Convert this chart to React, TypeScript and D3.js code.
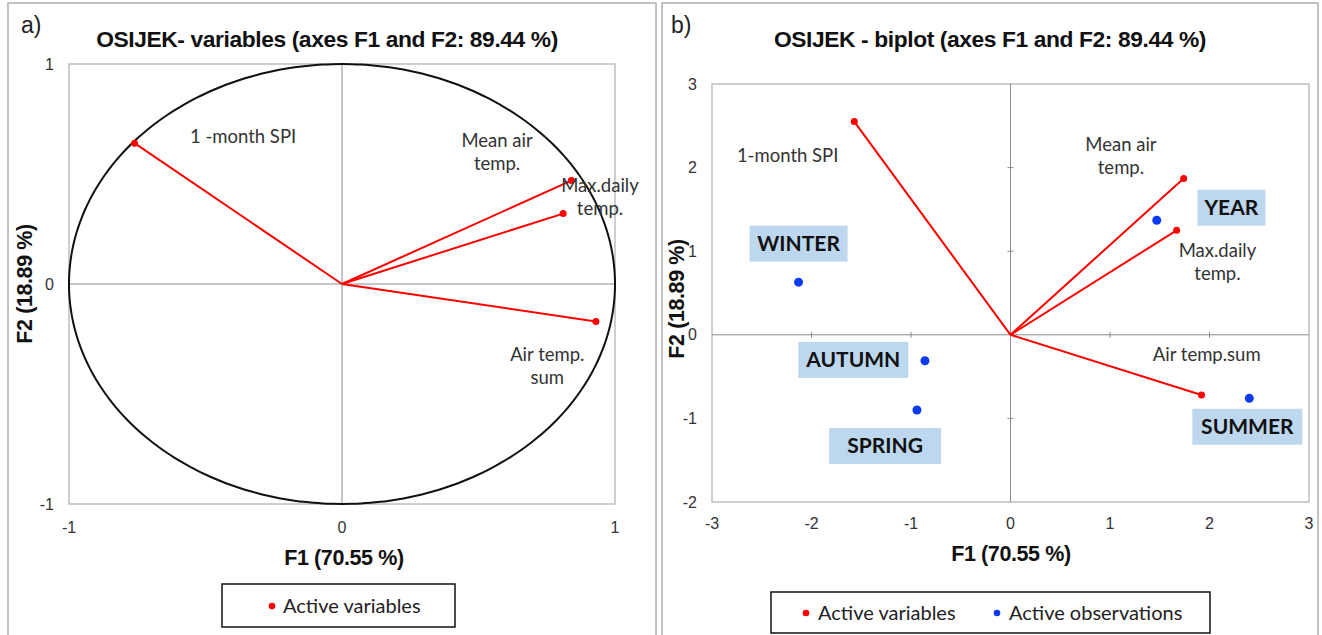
import React from "react";
import * as d3 from "d3";

// ---------- DATA ----------
const varNamesA = ["1 -month SPI", "Mean air temp.", "Max.daily temp.", "Air temp. sum"];
const varF1A = [-0.76, 0.84, 0.81, 0.93];
const varF2A = [0.64, 0.47, 0.32, -0.17];

const varNamesB = ["1-month SPI", "Mean air temp.", "Max.daily temp.", "Air temp.sum"];
const varF1B = [-1.57, 1.74, 1.67, 1.92];
const varF2B = [2.55, 1.87, 1.25, -0.72];

const obsNames = ["YEAR", "WINTER", "AUTUMN", "SPRING", "SUMMER"];
const obsF1 = [1.47, -2.13, -0.86, -0.94, 2.4];
const obsF2 = [1.37, 0.63, -0.31, -0.9, -0.76];

const ticksA = [-1, 0, 1];
const ticksBX = [-3, -2, -1, 0, 1, 2, 3];
const ticksBY = [-2, -1, 0, 1, 2, 3];

// ---------- LAYOUT (label placement in data coordinates) ----------
const labelsA = [
  { lines: ["1 -month SPI"], x: -0.557, y: 0.64, anchor: "start" },
  { lines: ["Mean air", "temp."], x: 0.568, y: 0.625, anchor: "middle" },
  { lines: ["Max.daily", "temp."], x: 0.945, y: 0.418, anchor: "middle" },
  { lines: ["Air temp.", "sum"], x: 0.752, y: -0.35, anchor: "middle" },
];
const labelsB = [
  { lines: ["1-month SPI"], x: -2.75, y: 2.07, anchor: "start" },
  { lines: ["Mean air", "temp."], x: 1.11, y: 2.2, anchor: "middle" },
  { lines: ["Max.daily", "temp."], x: 2.08, y: 0.93, anchor: "middle" },
  { lines: ["Air temp.sum"], x: 1.43, y: -0.31, anchor: "start" },
];
const obsBoxes = [
  { x: 2.22, y: 1.52, w: 68 },
  { x: -2.13, y: 1.09, w: 98 },
  { x: -1.58, y: -0.3, w: 110 },
  { x: -1.26, y: -1.33, w: 112 },
  { x: 2.38, y: -1.1, w: 110 },
];

const RED = "#ff0000";
const BLUE = "#0b3bf0";
const TICK = "#333333";
const LABEL = "#333333";
const ARIAL = "'Liberation Sans', Arial, sans-serif";
const CAL = "Lato, 'Open Sans', sans-serif";

export default function App() {
  // Panel a scales
  const xa = d3.scaleLinear().domain([-1, 1]).range([69, 615]);
  const ya = d3.scaleLinear().domain([-1, 1]).range([504, 64]);
  // Panel b scales
  const xb = d3.scaleLinear().domain([-3, 3]).range([712, 1309]);
  const yb = d3.scaleLinear().domain([-2, 3]).range([502, 84]);

  const circle = d3.range(0, 360, 2).map((deg) => {
    const t = (deg * Math.PI) / 180;
    return [Math.cos(t), Math.sin(t)] as [number, number];
  });
  const circleLine = d3
    .line<[number, number]>()
    .x((d) => xa(d[0]))
    .y((d) => ya(d[1]))
    .curve(d3.curveCardinalClosed);

  const titleStyle = { letterSpacing: "-0.4px" };

  return (
    <svg width={1322} height={635} style={{ position: "absolute", left: 0, top: 0, background: "#fff" }}>
      {/* panel frames */}
      <rect x={8} y={3} width={648} height={640} fill="none" stroke="#9a9a9a" strokeWidth={1.2} />
      <rect x={662} y={3} width={656} height={640} fill="none" stroke="#9a9a9a" strokeWidth={1.2} />

      {/* ---------------- Panel a ---------------- */}
      <text x={21} y={33} fontFamily={ARIAL} fontSize={23} fill="#222">a)</text>
      <text x={327} y={47} textAnchor="middle" fontFamily={ARIAL} fontSize={22.8} fontWeight="bold" fill="#111" style={titleStyle}>
        OSIJEK- variables (axes F1 and F2: 89.44 %)
      </text>
      <rect x={xa(-1)} y={ya(1)} width={xa(1) - xa(-1)} height={ya(-1) - ya(1)} fill="#fff" stroke="#bfbfbf" strokeWidth={1.5} />
      <line x1={xa(-1)} x2={xa(1)} y1={ya(0)} y2={ya(0)} stroke="#8c8c8c" strokeWidth={1} />
      <line x1={xa(0)} x2={xa(0)} y1={ya(1)} y2={ya(-1)} stroke="#8c8c8c" strokeWidth={1} />
      <path d={circleLine(circle) || ""} fill="none" stroke="#111" strokeWidth={2} />
      {ticksA.map((t) => (
        <text key={"ya" + t} x={54} y={ya(t) + 5.5} textAnchor="end" fontFamily={ARIAL} fontSize={16} fill={TICK}>{t}</text>
      ))}
      {ticksA.map((t) => (
        <text key={"xa" + t} x={xa(t)} y={533} textAnchor="middle" fontFamily={ARIAL} fontSize={16} fill={TICK}>{t}</text>
      ))}
      <text x={344} y={565} textAnchor="middle" fontFamily={ARIAL} fontSize={21.5} fontWeight="bold" fill="#111" style={titleStyle}>F1 (70.55 %)</text>
      <text transform={`translate(32,${ya(0)}) rotate(-90)`} textAnchor="middle" fontFamily={ARIAL} fontSize={21.5} fontWeight="bold" fill="#111" style={titleStyle}>F2 (18.89 %)</text>
      {varNamesA.map((n, i) => (
        <g key={"va" + n}>
          <line x1={xa(0)} y1={ya(0)} x2={xa(varF1A[i])} y2={ya(varF2A[i])} stroke={RED} strokeWidth={2} />
          <circle cx={xa(varF1A[i])} cy={ya(varF2A[i])} r={3.5} fill={RED} />
        </g>
      ))}
      {labelsA.map((l, i) => (
        <text key={"la" + i} x={xa(l.x)} y={ya(l.y)} textAnchor={l.anchor as any} fontFamily={CAL} fontSize={18.5} fill={LABEL}>
          {l.lines.map((s, j) => (
            <tspan key={j} x={xa(l.x)} dy={j === 0 ? 0 : 23}>{s}</tspan>
          ))}
        </text>
      ))}
      {/* legend a */}
      <rect x={222} y={584} width={233} height={43} fill="#fff" stroke="#111" strokeWidth={1.5} />
      <circle cx={272} cy={606} r={3.3} fill={RED} />
      <text x={283} y={613} fontFamily={CAL} fontSize={20} fill="#222">Active variables</text>

      {/* ---------------- Panel b ---------------- */}
      <text x={671} y={33} fontFamily={ARIAL} fontSize={23} fill="#222">b)</text>
      <text x={990} y={47} textAnchor="middle" fontFamily={ARIAL} fontSize={22.8} fontWeight="bold" fill="#111" style={titleStyle}>
        OSIJEK - biplot (axes F1 and F2: 89.44 %)
      </text>
      <rect x={xb(-3)} y={yb(3)} width={xb(3) - xb(-3)} height={yb(-2) - yb(3)} fill="#fff" stroke="#bfbfbf" strokeWidth={1.5} />
      <line x1={xb(-3)} x2={xb(3)} y1={yb(0)} y2={yb(0)} stroke="#8c8c8c" strokeWidth={1} />
      <line x1={xb(0)} x2={xb(0)} y1={yb(3)} y2={yb(-2)} stroke="#8c8c8c" strokeWidth={1} />
      {ticksBX.filter((t) => t !== 0 && Math.abs(t) < 3).map((t) => (
        <line key={"tbx" + t} x1={xb(t)} x2={xb(t)} y1={yb(0) - 3} y2={yb(0) + 3} stroke="#8c8c8c" strokeWidth={1} />
      ))}
      {ticksBY.filter((t) => t !== 0 && t > -2 && t < 3).map((t) => (
        <line key={"tby" + t} x1={xb(0) - 3} x2={xb(0) + 3} y1={yb(t)} y2={yb(t)} stroke="#8c8c8c" strokeWidth={1} />
      ))}
      {ticksBY.map((t) => (
        <text key={"yb" + t} x={697} y={yb(t) + 5.5} textAnchor="end" fontFamily={ARIAL} fontSize={16} fill={TICK}>{t}</text>
      ))}
      {ticksBX.map((t) => (
        <text key={"xb" + t} x={xb(t)} y={529} textAnchor="middle" fontFamily={ARIAL} fontSize={16} fill={TICK}>{t}</text>
      ))}
      <text x={1011} y={561} textAnchor="middle" fontFamily={ARIAL} fontSize={21.5} fontWeight="bold" fill="#111" style={titleStyle}>F1 (70.55 %)</text>
      <text transform={`translate(684,${(yb(3) + yb(-2)) / 2 + 6}) rotate(-90)`} textAnchor="middle" fontFamily={ARIAL} fontSize={21.5} fontWeight="bold" fill="#111" style={titleStyle}>F2 (18.89 %)</text>
      {obsNames.map((n, i) => {
        const b = obsBoxes[i];
        return (
          <g key={"ob" + n}>
            <rect x={xb(b.x) - b.w / 2} y={yb(b.y) - 18} width={b.w} height={36} fill="#bdd7ee" />
            <text x={xb(b.x)} y={yb(b.y) + 7} textAnchor="middle" fontFamily={CAL} fontSize={21} fontWeight="bold" fill="#111">{n}</text>
          </g>
        );
      })}
      {varNamesB.map((n, i) => (
        <g key={"vb" + n}>
          <line x1={xb(0)} y1={yb(0)} x2={xb(varF1B[i])} y2={yb(varF2B[i])} stroke={RED} strokeWidth={2} />
          <circle cx={xb(varF1B[i])} cy={yb(varF2B[i])} r={3.5} fill={RED} />
        </g>
      ))}
      {obsNames.map((n, i) => (
        <circle key={"od" + n} cx={xb(obsF1[i])} cy={yb(obsF2[i])} r={4.5} fill={BLUE} />
      ))}
      {labelsB.map((l, i) => (
        <text key={"lb" + i} x={xb(l.x)} y={yb(l.y)} textAnchor={l.anchor as any} fontFamily={CAL} fontSize={18.5} fill={LABEL}>
          {l.lines.map((s, j) => (
            <tspan key={j} x={xb(l.x)} dy={j === 0 ? 0 : 23}>{s}</tspan>
          ))}
        </text>
      ))}
      {/* legend b */}
      <rect x={771} y={592} width={439} height={41} fill="#fff" stroke="#111" strokeWidth={1.5} />
      <circle cx={806} cy={613} r={3.3} fill={RED} />
      <text x={818} y={620} fontFamily={CAL} fontSize={20} fill="#222">Active variables</text>
      <circle cx={997} cy={613} r={3.3} fill={BLUE} />
      <text x={1009} y={620} fontFamily={CAL} fontSize={20} fill="#222">Active observations</text>
    </svg>
  );
}
